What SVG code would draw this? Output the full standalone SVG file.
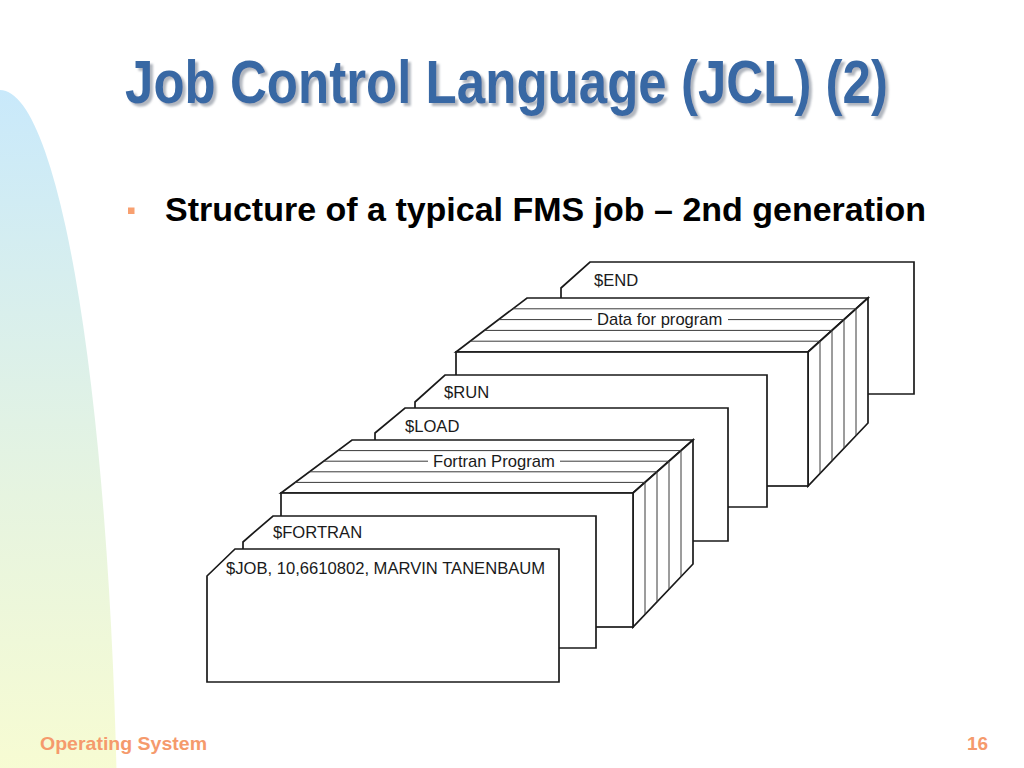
<svg xmlns="http://www.w3.org/2000/svg" width="1024" height="768" viewBox="0 0 1024 768">
  <defs>
    <linearGradient id="bgGrad" x1="0" y1="0" x2="0" y2="1">
      <stop offset="0" stop-color="#C9E9FB"/>
      <stop offset="0.5" stop-color="#E6F4E0"/>
      <stop offset="1" stop-color="#FFFFCC"/>
    </linearGradient>
    <filter id="shadow" filterUnits="userSpaceOnUse" x="100" y="30" width="820" height="110">
      <feDropShadow dx="3" dy="3" stdDeviation="0.8" flood-color="#A9AFB8" flood-opacity="0.9"/>
    </filter>
    <style>
      .card { fill: #ffffff; stroke: #1a1a1a; stroke-width: 1.7; stroke-linejoin: miter; }
      .inner { fill: none; stroke: #3a3a3a; stroke-width: 1; }
      .lbl { font-family: "Liberation Sans", Arial, sans-serif; font-size: 16.6px; fill: #1a1a1a; }
      .title { font-family: "Liberation Sans", Arial, sans-serif; font-weight: bold; font-size: 51px; fill: #3868A4; }
      .foot { font-family: "Liberation Sans", Arial, sans-serif; font-weight: bold; font-size: 19px; fill: #F59A6C; }
    </style>
  </defs>

  <!-- background -->
  <rect x="0" y="0" width="1024" height="768" fill="#ffffff"/>
  <path d="M0,90 A118,810 0 0 1 118,900 L118,768 L0,768 Z" fill="url(#bgGrad)"/>

  <!-- title -->
  <g id="title" filter="url(#shadow)">
    <text class="title" transform="matrix(1,0,0,1.196,0,0)" x="125" y="86.12" textLength="763" lengthAdjust="spacingAndGlyphs">Job Control Language (JCL) (2)</text>
  </g>

  <!-- bullet -->
  <g id="bullet">
    <rect x="128" y="207.5" width="6.5" height="6.5" fill="#F8A070"/>
    <text x="165" y="221" font-family="Liberation Sans, Arial, sans-serif" font-weight="bold" font-size="33.5" fill="#000" textLength="761" lengthAdjust="spacingAndGlyphs">Structure of a typical FMS job – 2nd generation</text>
  </g>

  <!-- $END card -->
  <g id="card-end">
    <path class="card" d="M561,288 L590,262 L914,262 L914,394 L561,394 Z"/>
    <text class="lbl" x="594" y="286">$END</text>
  </g>

  <!-- Data for program block -->
  <g id="block-data">
    <path class="card" d="M456,352 L527,298 L868,298 L808,352 Z"/>
    <path class="card" d="M808,352 L868,298 L868,423 L808,486 Z"/>
    <rect class="card" x="456" y="352" width="352" height="134"/>
    <path class="inner" d="M512.8,308.8 L856,308.8 M484.4,330.4 L832,330.4 M470.2,341.2 L820,341.2 M498.6,319.6 L592,319.6 M728,319.6 L844,319.6"/>
    <path class="inner" d="M856,308.8 L856,435.6 M844,319.6 L844,448.2 M832,330.4 L832,460.8 M820,341.2 L820,473.4"/>
    <text class="lbl" x="597" y="325">Data for program</text>
  </g>

  <!-- $RUN card -->
  <g id="card-run">
    <path class="card" d="M415,402 L445,375 L767,375 L767,507 L415,507 Z"/>
    <text class="lbl" x="444" y="398">$RUN</text>
  </g>

  <!-- $LOAD card -->
  <g id="card-load">
    <path class="card" d="M375,433 L405,408 L728,408 L728,541 L375,541 Z"/>
    <text class="lbl" x="405" y="432">$LOAD</text>
  </g>

  <!-- Fortran Program block -->
  <g id="block-fortran">
    <path class="card" d="M281,493 L352,440 L693,440 L633,493 Z"/>
    <path class="card" d="M633,493 L693,440 L693,564 L633,627 Z"/>
    <rect class="card" x="281" y="493" width="352" height="134"/>
    <path class="inner" d="M337.8,450.6 L681,450.6 M309.4,471.8 L657,471.8 M295.2,482.4 L645,482.4 M323.6,461.2 L428,461.2 M560,461.2 L669,461.2"/>
    <path class="inner" d="M681,450.6 L681,576.6 M669,461.2 L669,589.2 M657,471.8 L657,601.8 M645,482.4 L645,614.4"/>
    <text class="lbl" x="433" y="466.5">Fortran Program</text>
  </g>

  <!-- $FORTRAN card -->
  <g id="card-fortran">
    <path class="card" d="M243,542 L273,516 L596,516 L596,648 L243,648 Z"/>
    <text class="lbl" x="273" y="538">$FORTRAN</text>
  </g>

  <!-- $JOB card -->
  <g id="card-job">
    <path class="card" d="M207,576 L235,549 L559,549 L559,682 L207,682 Z"/>
    <text class="lbl" x="226" y="573.5">$JOB, 10,6610802, MARVIN TANENBAUM</text>
  </g>

  <!-- footer -->
  <g id="footer">
    <text class="foot" x="40" y="750" textLength="167" lengthAdjust="spacingAndGlyphs">Operating System</text>
    <text class="foot" x="967" y="750">16</text>
  </g>
</svg>
